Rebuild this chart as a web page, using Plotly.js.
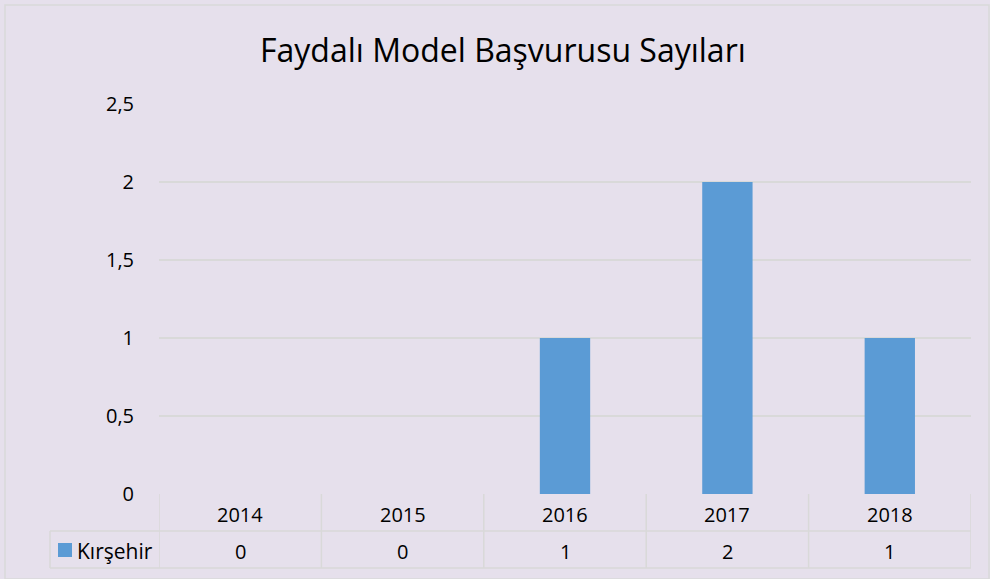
<!DOCTYPE html>
<html>
<head>
<meta charset="utf-8">
<script src="https://cdn.plot.ly/plotly-3.0.1.min.js"></script>
<style>html,body{margin:0;padding:0;background:#E6E0EC;}#chart{width:990px;height:579px;}</style>
</head>
<body>
<div id="chart"></div>
<script>
const years = ["2014", "2015", "2016", "2017", "2018"];
const seriesName = "Kırşehir";
const kirsehir = [0, 0, 1, 2, 1];
const yTickVals = [0, 0.5, 1, 1.5, 2, 2.5];
const yTickText = ["0", "0,5", "1", "1,5", "2", "2,5"];
const chartTitle = "Faydalı Model Başvurusu Sayıları";

const FONT = "'Open Sans', sans-serif";
const BLUE = "#5B9BD5";
const LINE = "#D9D9D9";

// plot area geometry in pixels
const L = 159, R = 971, T = 104, B = 494, W = 990, H = 579;
const px = x => (x - L) / (R - L);
const py = y => (B - y) / (B - T);

const yRow1 = py(531), yRow2 = py(568);
const shapes = [];
shapes.push({type:'line', xref:'paper', yref:'paper', x0:px(50), x1:1, y0:yRow1, y1:yRow1, line:{color:LINE, width:1.5}});
shapes.push({type:'line', xref:'paper', yref:'paper', x0:px(50), x1:1, y0:yRow2, y1:yRow2, line:{color:LINE, width:1.5}});
shapes.push({type:'line', xref:'paper', yref:'paper', x0:px(50), x1:px(50), y0:yRow1, y1:yRow2, line:{color:LINE, width:1.5}});
for (let i = 0; i <= years.length; i++) {
  shapes.push({type:'line', xref:'x', yref:'paper', x0:i - 0.5, x1:i - 0.5, y0:0, y1:yRow2, line:{color:LINE, width:1.5}});
}
shapes.push({type:'rect', xref:'paper', yref:'paper', x0:px(58), x1:px(72), y0:py(557), y1:py(543), fillcolor:BLUE, line:{width:0}});
shapes.push({type:'rect', xref:'paper', yref:'paper', x0:px(5), x1:px(989), y0:py(579), y1:py(5), line:{color:LINE, width:1.5}, fillcolor:'rgba(0,0,0,0)'});

const annotations = [];
years.forEach((yr, i) => {
  annotations.push({xref:'x', yref:'paper', x:i, y:py(514), text:yr, showarrow:false, xanchor:'center', yanchor:'middle', font:{family:FONT, size:20, color:'#000'}});
  annotations.push({xref:'x', yref:'paper', x:i, y:py(551), text:String(kirsehir[i]), showarrow:false, xanchor:'center', yanchor:'middle', font:{family:FONT, size:20, color:'#000'}});
});
annotations.push({xref:'paper', yref:'paper', x:px(75), y:py(551), text:seriesName, showarrow:false, xanchor:'left', yanchor:'middle', font:{family:FONT, size:21, color:'#000'}});

const data = [{
  type:'bar', x:years, y:kirsehir, name:seriesName,
  marker:{color:BLUE}, width:0.31, hoverinfo:'x+y'
}];

const layout = {
  width:W, height:H,
  paper_bgcolor:'#E6E0EC', plot_bgcolor:'#E6E0EC',
  margin:{l:L, r:W - R, t:T, b:H - B, pad:0},
  showlegend:false,
  title:{text:chartTitle, x:0.508, xanchor:'center', y:1 - 51/H, yanchor:'middle', font:{family:FONT, size:32, color:'#000'}},
  xaxis:{type:'category', showticklabels:false, showgrid:false, zeroline:false, showline:false, ticks:'', range:[-0.5, 4.5], fixedrange:true},
  yaxis:{range:[0, 2.5], tickvals:yTickVals, ticktext:yTickText, showgrid:true, gridcolor:LINE, gridwidth:1.5, zeroline:false, showline:false, ticks:'', ticklabelstandoff:24, tickfont:{family:FONT, size:20, color:'#000'}, fixedrange:true},
  shapes:shapes,
  annotations:annotations,
  font:{family:FONT}
};

Plotly.newPlot('chart', data, layout, {displayModeBar:false, staticPlot:true});
</script>
</body>
</html>
